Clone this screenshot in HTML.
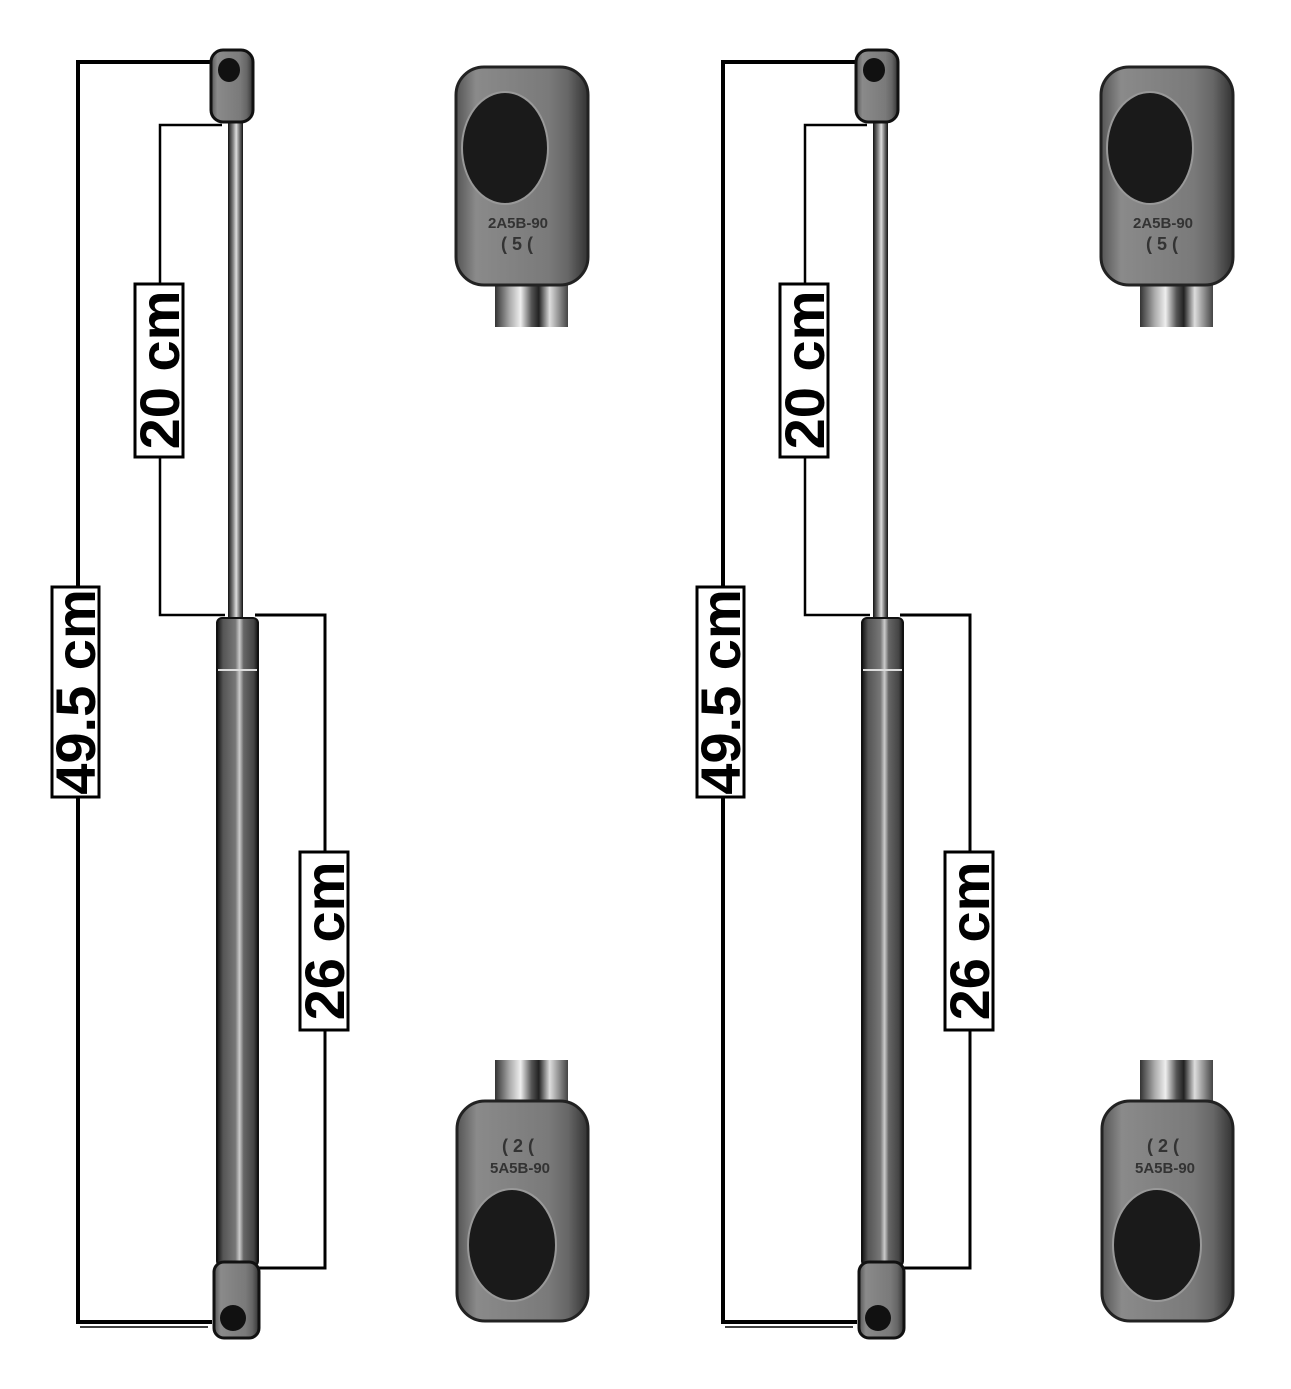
<!DOCTYPE html>
<html><head><meta charset="utf-8"><style>
html,body{margin:0;padding:0;background:#fff;}
svg{display:block;}
text{font-family:"Liberation Sans",sans-serif;font-weight:bold;}
</style></head><body>
<svg width="1291" height="1389" viewBox="0 0 1291 1389" xmlns="http://www.w3.org/2000/svg">
<defs>
<linearGradient id="rod" x1="0" x2="1"><stop offset="0" stop-color="#111"/><stop offset=".35" stop-color="#888"/><stop offset=".55" stop-color="#ddd"/><stop offset=".8" stop-color="#666"/><stop offset="1" stop-color="#111"/></linearGradient>
<linearGradient id="cyl" x1="0" x2="1"><stop offset="0" stop-color="#111"/><stop offset=".15" stop-color="#555"/><stop offset=".45" stop-color="#777"/><stop offset=".55" stop-color="#ccc"/><stop offset=".65" stop-color="#666"/><stop offset=".9" stop-color="#444"/><stop offset="1" stop-color="#111"/></linearGradient>
<linearGradient id="pin" x1="0" x2="1"><stop offset="0" stop-color="#333"/><stop offset=".2" stop-color="#aaa"/><stop offset=".35" stop-color="#eee"/><stop offset=".5" stop-color="#555"/><stop offset=".6" stop-color="#222"/><stop offset=".75" stop-color="#ddd"/><stop offset="1" stop-color="#444"/></linearGradient>
<linearGradient id="eye" x1="0" x2="1"><stop offset="0" stop-color="#555"/><stop offset=".15" stop-color="#8a8a8a"/><stop offset=".7" stop-color="#7a7a7a"/><stop offset=".85" stop-color="#666"/><stop offset="1" stop-color="#333"/></linearGradient>
</defs>

<!-- LEFT SET -->
<g id="setL">
<!-- dimension lines -->
<g fill="none" stroke="#000">
<polyline points="215,62 78,62 78,1322 212,1322" stroke-width="4"/>
<line x1="80" y1="1327" x2="208" y2="1327" stroke-width="1.5"/>
<polyline points="222,125 160,125 160,615 225,615" stroke-width="2.5"/>
<polyline points="255,615 325,615 325,1268 258,1268" stroke-width="3"/>
</g>
<!-- label boxes -->
<rect x="52" y="587" width="47" height="210" fill="#fff" stroke="#000" stroke-width="3"/>
<text transform="translate(95,692) rotate(-90)" font-size="56" text-anchor="middle">49.5 cm</text>
<rect x="135" y="284" width="48" height="173" fill="#fff" stroke="#000" stroke-width="3"/>
<text transform="translate(179,370) rotate(-90)" font-size="56" text-anchor="middle">20 cm</text>
<rect x="300" y="852" width="48" height="178" fill="#fff" stroke="#000" stroke-width="3"/>
<text transform="translate(344,941) rotate(-90)" font-size="56" text-anchor="middle">26 cm</text>
<!-- strut -->
<rect x="228" y="118" width="15" height="502" fill="url(#rod)"/>
<rect x="217" y="618" width="41" height="648" rx="5" fill="url(#cyl)" stroke="#111" stroke-width="2"/>
<line x1="218" y1="670" x2="257" y2="670" stroke="#ddd" stroke-width="2"/>
<rect x="211" y="50" width="42" height="72" rx="12" fill="url(#eye)" stroke="#111" stroke-width="3"/>
<ellipse cx="229" cy="70" rx="11" ry="12" fill="#111"/>
<rect x="214" y="1262" width="45" height="76" rx="10" fill="url(#eye)" stroke="#111" stroke-width="3"/>
<ellipse cx="233" cy="1318" rx="13" ry="13" fill="#111"/>
<!-- loose eyes -->
<rect x="495" y="280" width="73" height="47" fill="url(#pin)"/>
<rect x="456" y="67" width="132" height="218" rx="28" fill="url(#eye)" stroke="#222" stroke-width="3"/>
<ellipse cx="505" cy="148" rx="43" ry="56" fill="#1a1a1a" stroke="#999" stroke-width="2"/>
<text x="518" y="228" font-size="15" fill="#333" text-anchor="middle" font-weight="normal">2A5B-90</text>
<text x="517" y="250" font-size="18" fill="#333" text-anchor="middle" font-weight="normal">( 5 (</text>
<rect x="495" y="1060" width="73" height="48" fill="url(#pin)"/>
<rect x="457" y="1101" width="131" height="220" rx="28" fill="url(#eye)" stroke="#222" stroke-width="3"/>
<ellipse cx="512" cy="1245" rx="44" ry="56" fill="#1a1a1a" stroke="#999" stroke-width="2"/>
<text x="518" y="1152" font-size="18" fill="#333" text-anchor="middle" font-weight="normal">( 2 (</text>
<text x="520" y="1173" font-size="15" fill="#333" text-anchor="middle" font-weight="normal">5A5B-90</text>
</g>

<!-- RIGHT SET -->
<g transform="translate(645,0)">
<g fill="none" stroke="#000">
<polyline points="215,62 78,62 78,1322 212,1322" stroke-width="4"/>
<line x1="80" y1="1327" x2="208" y2="1327" stroke-width="1.5"/>
<polyline points="222,125 160,125 160,615 225,615" stroke-width="2.5"/>
<polyline points="255,615 325,615 325,1268 258,1268" stroke-width="3"/>
</g>
<rect x="52" y="587" width="47" height="210" fill="#fff" stroke="#000" stroke-width="3"/>
<text transform="translate(95,692) rotate(-90)" font-size="56" text-anchor="middle">49.5 cm</text>
<rect x="135" y="284" width="48" height="173" fill="#fff" stroke="#000" stroke-width="3"/>
<text transform="translate(179,370) rotate(-90)" font-size="56" text-anchor="middle">20 cm</text>
<rect x="300" y="852" width="48" height="178" fill="#fff" stroke="#000" stroke-width="3"/>
<text transform="translate(344,941) rotate(-90)" font-size="56" text-anchor="middle">26 cm</text>
<rect x="228" y="118" width="15" height="502" fill="url(#rod)"/>
<rect x="217" y="618" width="41" height="648" rx="5" fill="url(#cyl)" stroke="#111" stroke-width="2"/>
<line x1="218" y1="670" x2="257" y2="670" stroke="#ddd" stroke-width="2"/>
<rect x="211" y="50" width="42" height="72" rx="12" fill="url(#eye)" stroke="#111" stroke-width="3"/>
<ellipse cx="229" cy="70" rx="11" ry="12" fill="#111"/>
<rect x="214" y="1262" width="45" height="76" rx="10" fill="url(#eye)" stroke="#111" stroke-width="3"/>
<ellipse cx="233" cy="1318" rx="13" ry="13" fill="#111"/>
<rect x="495" y="280" width="73" height="47" fill="url(#pin)"/>
<rect x="456" y="67" width="132" height="218" rx="28" fill="url(#eye)" stroke="#222" stroke-width="3"/>
<ellipse cx="505" cy="148" rx="43" ry="56" fill="#1a1a1a" stroke="#999" stroke-width="2"/>
<text x="518" y="228" font-size="15" fill="#333" text-anchor="middle" font-weight="normal">2A5B-90</text>
<text x="517" y="250" font-size="18" fill="#333" text-anchor="middle" font-weight="normal">( 5 (</text>
<rect x="495" y="1060" width="73" height="48" fill="url(#pin)"/>
<rect x="457" y="1101" width="131" height="220" rx="28" fill="url(#eye)" stroke="#222" stroke-width="3"/>
<ellipse cx="512" cy="1245" rx="44" ry="56" fill="#1a1a1a" stroke="#999" stroke-width="2"/>
<text x="518" y="1152" font-size="18" fill="#333" text-anchor="middle" font-weight="normal">( 2 (</text>
<text x="520" y="1173" font-size="15" fill="#333" text-anchor="middle" font-weight="normal">5A5B-90</text>
</g>
</svg>
</body></html>
